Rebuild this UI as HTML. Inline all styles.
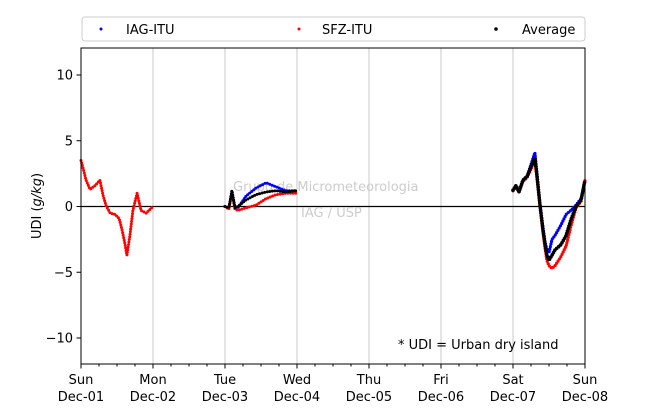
<!DOCTYPE html>
<html><head><meta charset="utf-8"><style>
body{margin:0;background:#fff;font-family:"DejaVu Sans","Liberation Sans",sans-serif;}
</style></head><body>
<svg width="650" height="409" xmlns="http://www.w3.org/2000/svg" font-family="DejaVu Sans, Liberation Sans, sans-serif">
<g id="grid"></g>
<line x1="81" x2="585" y1="206.5" y2="206.5" stroke="#000" stroke-width="1.2"/>
<text x="233" y="191" font-size="13" fill="#ccc">Grupo de Micrometeorologia</text>
<text x="301" y="217" font-size="13" fill="#ccc">IAG / USP</text>
<g id="series"></g>
<rect x="81" y="48" width="504" height="316" fill="none" stroke="#000" stroke-width="1"/>
<g id="axes"></g>
<text transform="translate(41,206) rotate(-90)" text-anchor="middle" font-size="13">UDI (<tspan font-style="italic">g/kg</tspan>)</text>
<text x="398" y="349" font-size="13">* UDI = Urban dry island</text>
<g>
<rect x="82" y="17" width="503" height="24" rx="3" fill="#fff" stroke="#ccc"/>
<circle cx="101" cy="29" r="1.5" fill="blue"/>
<text x="126" y="34" font-size="13">IAG-ITU</text>
<circle cx="299" cy="29" r="1.5" fill="red"/>
<text x="322" y="34" font-size="13">SFZ-ITU</text>
<circle cx="496" cy="29" r="1.8" fill="#000"/>
<text x="522" y="34" font-size="13">Average</text>
</g>
</svg>
<script>
const yTicks=[10,5,0,-5,-10];
const dayLabels=["Sun","Mon","Tue","Wed","Thu","Fri","Sat","Sun"];
const dateLabels=["Dec-01","Dec-02","Dec-03","Dec-04","Dec-05","Dec-06","Dec-07","Dec-08"];
// hours since Dec-01 00:00
const sfzHours1=[0,0.7,1.7,3,4.7,6.3,7.3,8.3,9.7,11.3,12.7,13.7,14.7,15.3,16.3,17.3,18.7,20,21.7,24];
const sfzVals1=[3.5,2.9,2.0,1.3,1.6,2.0,0.9,0.1,-0.5,-0.6,-0.9,-1.8,-2.9,-3.7,-2.2,-0.3,1.0,-0.3,-0.5,0];
const hours2=[48,49.3,50.3,51.3,52.3,55,58.3,61.7,65,68.3,72];
const iagVals2=[0,-0.1,1.2,0,-0.1,0.8,1.4,1.8,1.5,1.2,1.2];
const sfzVals2=[0,-0.2,1.0,-0.2,-0.3,-0.1,0.1,0.6,0.9,1.0,1.0];
const avgVals2=[0,-0.1,1.2,-0.1,0,0.5,0.9,1.1,1.2,1.1,1.2];
const hours3=[144,145,146,147.3,148.7,150.3,151.3,152,153,154,154.7,155.3,156,157,158,160,161.7,163.3,165,166.7,168];
const iagVals3=[1.2,1.6,1.1,2.0,2.3,3.4,4.1,2.5,0.2,-1.6,-2.7,-3.3,-3.5,-2.5,-2.2,-1.4,-0.6,-0.3,0.1,0.6,2.0];
const sfzVals3=[1.2,1.5,1.1,1.9,2.2,3.0,3.5,2.2,0,-2.0,-3.2,-4.1,-4.5,-4.7,-4.5,-3.8,-3.0,-1.5,-0.1,0.4,2.0];
const avgVals3=[1.25,1.6,1.1,2.0,2.3,3.2,3.7,2.3,0.1,-1.8,-2.9,-3.7,-4.1,-3.7,-3.3,-2.9,-2.2,-1.0,0,0.5,2.0];
const X=h=>81+h*3;
const Y=v=>206.5-v*13.15;
const NS="http://www.w3.org/2000/svg";
const grid=document.getElementById('grid'),axes=document.getElementById('axes'),ser=document.getElementById('series');
function mk(tag,attrs,parent){const e=document.createElementNS(NS,tag);for(const k in attrs)e.setAttribute(k,attrs[k]);parent.appendChild(e);return e;}
for(let d=1;d<7;d++){
 const g=mk('line',{x1:X(d*24),x2:X(d*24),y1:48,y2:364,stroke:'#c8c8c8','stroke-width':1},grid);
 
 
}
dayLabels.forEach((l,i)=>{
 const x=X(i*24);
 const t=mk('line',{x1:x,x2:x,y1:364,y2:368.5,stroke:'#000'},axes);
 
 
 const a=mk('text',{x:x,y:384,'text-anchor':'middle','font-size':13},axes);a.textContent=l;
 
 
 const b=mk('text',{x:x,y:401,'text-anchor':'middle','font-size':13},axes);b.textContent=dateLabels[i];
 
 
 if(i<7)for(let k=1;k<4;k++){const m=mk('line',{x1:x+k*18,x2:x+k*18,y1:364,y2:366.5,stroke:'#000'},axes);
  
  }
});
yTicks.forEach(v=>{
 const y=Y(v);
 const t=mk('line',{x1:76.5,x2:81,y1:y,y2:y,stroke:'#000'},axes);
 
 
 const l=mk('text',{x:73,y:y+4.5,'text-anchor':'end','font-size':13},axes);l.textContent=v<0?'\u2212'+(-v):v;
 
 
});
function series(hs,vs,color,w,name){
 const d=hs.map((h,i)=>(i?'L':'M')+X(h).toFixed(1)+','+Y(vs[i]).toFixed(1)).join(' ');
 const p=mk('path',{d:d,fill:'none',stroke:color,'stroke-width':w,'stroke-linecap':'round','stroke-linejoin':'round','stroke-dasharray':'0 2.6'},ser);
 
 
}
series(sfzHours1,sfzVals1,'red',3,'sfz-series-1');
series(hours2,iagVals2,'blue',3,'iag-series-2');
series(hours2,sfzVals2,'red',3,'sfz-series-2');
series(hours2,avgVals2,'#000',3,'avg-series-2');
series(hours3,iagVals3,'blue',3.2,'iag-series-3');
series(hours3,sfzVals3,'red',3.2,'sfz-series-3');
series(hours3,avgVals3,'#000',3.6,'avg-series-3');
</script>
</body></html>
